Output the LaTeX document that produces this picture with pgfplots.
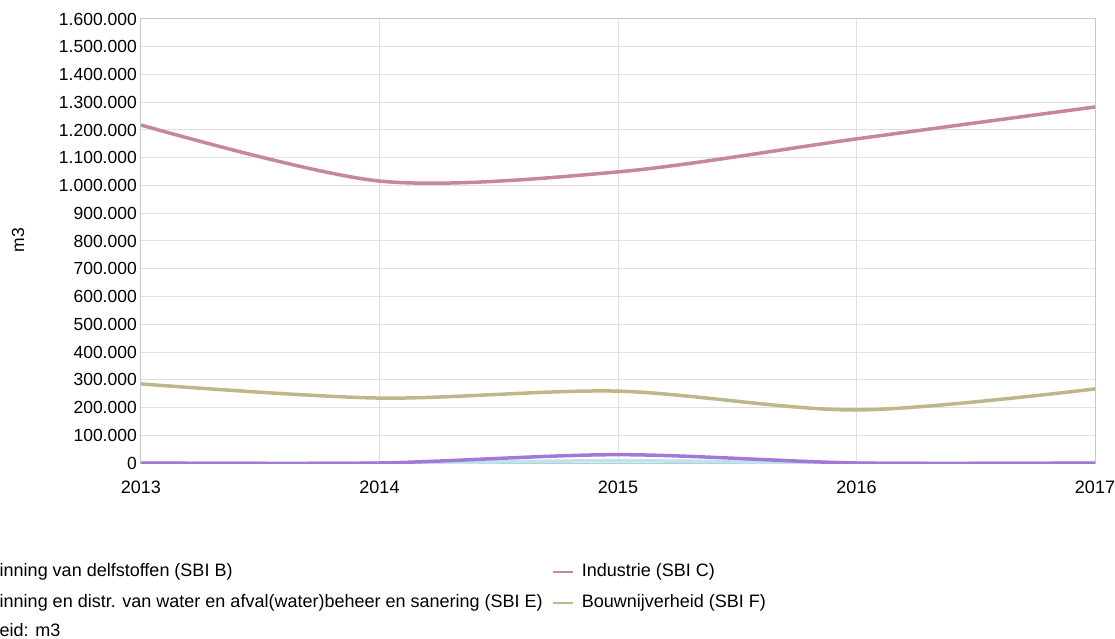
\documentclass[border=0pt]{standalone}
\usepackage{fontspec}
\setmainfont{Liberation Sans}
\usepackage{pgfplots}
\pgfplotsset{compat=1.18}
\definecolor{cB}{RGB}{165,120,214}
\definecolor{cC}{RGB}{198,134,158}
\definecolor{cE}{RGB}{185,228,240}
\definecolor{cF}{RGB}{189,183,138}
\begin{document}
\fontsize{17.5bp}{21bp}\selectfont
\begin{tikzpicture}
\begin{axis}[
  at={(0,0)}, anchor=south west,
  scale only axis, width=954bp, height=444bp,
  xmin=2013, xmax=2017, ymin=0, ymax=1600000,
  xtick={2013,2014,2015,2016,2017},
  ytick={0,100000,200000,300000,400000,500000,600000,700000,800000,900000,1000000,1100000,1200000,1300000,1400000,1500000,1600000},
  scaled y ticks=false,
  /pgf/number format/assume math mode=true,
  yticklabel style={/pgf/number format/.cd, fixed, 1000 sep={.}, /tikz/.cd, anchor=east, inner sep=0pt, xshift=-4bp},
  xticklabel style={/pgf/number format/1000 sep={}, anchor=north, inner sep=0pt, yshift=-17.7bp, font=\fontsize{18bp}{21bp}\selectfont},
  yticklabel style={font=\fontsize{17.5bp}{21bp}\selectfont},
  tick label style={text=black},
  major tick length=0pt,
  grid=major,
  major grid style={draw=black!12, line width=1bp},
  axis line style={draw=black!22, line width=1bp},
  ylabel={m3},
  ylabel style={at={(axis description cs:-0.1289,0.502)}, anchor=center, font=\fontsize{17.5bp}{21bp}\selectfont},
  legend style={
    at={(axis description cs:-0.19706,-0.22680)}, anchor=north west,
    draw=none, fill=none, inner sep=0pt, outer sep=0pt,
    font=\fontsize{18bp}{21bp}\selectfont,
    nodes={inner sep=0pt, text height=12.6bp, text depth=3.7bp},
    row sep=14.7bp, column sep=0pt,
    /tikz/every even column/.append style={column sep=9.5bp},
  },
  legend cell align=left,
  legend columns=2,
  legend image code/.code={\draw[#1, line width=2bp] (0bp,0bp) -- (20bp,0bp); \path (27bp,0bp);},
]
\addplot[cE, line width=3.5bp, smooth, tension=0.5, forget plot] coordinates {(2013,0) (2014,0) (2015,8000) (2016,0) (2017,0)};
\addplot[cB, line width=3.5bp, smooth, tension=0.5] coordinates {(2013,0) (2014,0) (2015,30000) (2016,0) (2017,0)};
\addlegendentry{Winning van delfstoffen (SBI B)}
\addplot[cC, line width=3.5bp, smooth, tension=0.5] coordinates {(2013,1218000) (2014,1016000) (2015,1049000) (2016,1168000) (2017,1283000)};
\addlegendentry{Industrie (SBI C)}
\addlegendimage{cE, line width=3.5bp}
\addlegendentry{Winning en distr. van water en afval(water)beheer en sanering (SBI E)}
\addplot[cF, line width=3.5bp, smooth, tension=0.5] coordinates {(2013,285000) (2014,234000) (2015,259000) (2016,191000) (2017,267000)};
\addlegendentry{Bouwnijverheid (SBI F)}
\end{axis}
\node[anchor=base west, inner sep=0pt, font=\fontsize{18bp}{21bp}\selectfont] at (-183.5bp,-173.3bp) {Eenheid: m3};
\pgfresetboundingbox
\useasboundingbox (-141bp,-176bp) rectangle (974bp,463bp);
\end{tikzpicture}
\end{document}
